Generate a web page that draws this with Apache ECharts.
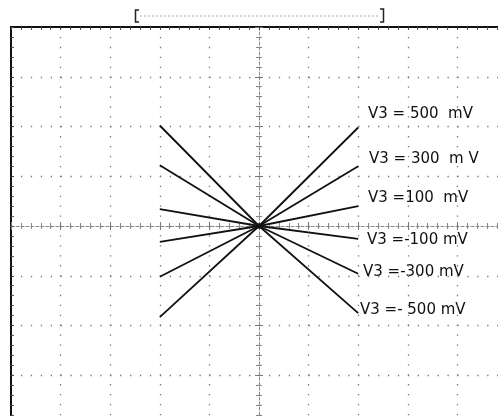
<!DOCTYPE html>
<html>
<head>
<meta charset="utf-8">
<script src="https://cdn.jsdelivr.net/npm/echarts@6/dist/echarts.min.js"></script>
<style>html,body{margin:0;padding:0;background:#fff;}#c{width:498px;height:416px;}</style>
</head>
<body>
<div id="c"></div>
<script>
// Sweep positions (screen divisions) and trace values (divisions)
const sweepX = [-2, 0, 2];
const traceNames = ['V3 = 500  mV', 'V3 = 300  m V', 'V3 =100  mV', 'V3 =-100 mV', 'V3 =-300 mV', 'V3 =- 500 mV'];
const v500 = [-1.83, 0, 1.98];
const v300 = [-1.02, 0, 1.20];
const v100 = [-0.32, 0, 0.40];
const vm100 = [0.34, 0, -0.26];
const vm300 = [1.22, 0, -0.96];
const vm500 = [2.02, 0, -1.75];
const traces = [v500, v300, v100, vm100, vm300, vm500];
const convergence = [[0, 0]];

const chart = echarts.init(document.getElementById('c'), null, {renderer: 'canvas'});

const gridDot = {color: '#777', width: 1.3, type: [1.3, 8.62]};
const centerLine = {color: '#8a8a8a', width: 1, type: [3, 2]};

function baseAxis(extra) {
  return Object.assign({
    type: 'value', axisLabel: {show: false}, splitLine: {show: false},
    minorTick: {show: false}, axisTick: {show: false}
  }, extra);
}

const option = {
  animation: false,
  backgroundColor: '#fff',
  grid: {left: 11, top: 27, width: 496, height: 398, containLabel: false, outerBoundsMode: 'none'},
  xAxis: [
    baseAxis({min: -5, max: 5, interval: 1, position: 'bottom',
      axisLine: {show: true, onZero: true, onZeroAxisIndex: 0, lineStyle: centerLine},
      axisTick: {show: true, length: 4, lineStyle: {color: '#777'}},
      minorTick: {show: true, splitNumber: 5, length: 3, lineStyle: {color: '#888'}},
      splitLine: {show: true, lineStyle: gridDot}}),
    baseAxis({min: -5, max: 5, interval: 1, position: 'top',
      axisLine: {show: false, onZero: true, onZeroAxisIndex: 0},
      axisTick: {show: true, length: 4, lineStyle: {color: '#777'}},
      minorTick: {show: true, splitNumber: 5, length: 3, lineStyle: {color: '#888'}}}),
    baseAxis({min: -5, max: 5, interval: 1, position: 'top',
      axisLine: {show: true, onZero: false, lineStyle: {color: '#111', width: 2}},
      axisTick: {show: true, inside: true, length: 3, lineStyle: {color: '#444'}},
      minorTick: {show: true, splitNumber: 5, length: 3, lineStyle: {color: '#555'}}})
  ],
  yAxis: [
    baseAxis({min: -4, max: 4, interval: 1, position: 'left',
      axisLine: {show: true, onZero: true, onZeroAxisIndex: 0, lineStyle: centerLine},
      axisTick: {show: true, length: 4, lineStyle: {color: '#777'}},
      minorTick: {show: true, splitNumber: 5, length: 3, lineStyle: {color: '#888'}},
      splitLine: {show: true, lineStyle: gridDot}}),
    baseAxis({min: -4, max: 4, interval: 1, position: 'right',
      axisLine: {show: false, onZero: true, onZeroAxisIndex: 0},
      axisTick: {show: true, length: 4, lineStyle: {color: '#777'}},
      minorTick: {show: true, splitNumber: 5, length: 3, lineStyle: {color: '#888'}}}),
    baseAxis({min: -4, max: 4, interval: 1, position: 'left',
      axisLine: {show: true, onZero: false, lineStyle: {color: '#111', width: 2}},
      axisTick: {show: true, inside: true, length: 3, lineStyle: {color: '#444'}},
      minorTick: {show: true, splitNumber: 5, length: 3, lineStyle: {color: '#555'}}})
  ],
  series: traces.map((t, i) => ({
    type: 'line', name: traceNames[i], xAxisIndex: 0, yAxisIndex: 0,
    data: sweepX.map((x, j) => [x, t[j]]),
    showSymbol: false, symbol: 'none',
    lineStyle: {color: '#111', width: 1.8}, z: 5
  })).concat([{
    type: 'scatter', data: convergence, symbolSize: 6,
    itemStyle: {color: '#111'}, z: 6, xAxisIndex: 0, yAxisIndex: 0
  }]),
  graphic: [
    {type: 'polyline', shape: {points: [[139, 10], [135.5, 10], [135.5, 22], [139, 22]]}, style: {stroke: '#222', lineWidth: 1.5, fill: null}},
    {type: 'line', shape: {x1: 140, y1: 16, x2: 380, y2: 16}, style: {stroke: '#aaa', lineWidth: 1, lineDash: [2, 2]}},
    {type: 'polyline', shape: {points: [[380, 9], [383.5, 9], [383.5, 22], [380, 22]]}, style: {stroke: '#222', lineWidth: 1.5, fill: null}}
  ].concat(traceNames.map((name, i) => ({
    type: 'text',
    left: [368, 369, 368, 367, 363, 360][i],
    top: [116, 161, 200, 242, 274, 312][i] - 9,
    style: {text: name, fontFamily: 'DejaVu Sans', fontSize: 15, fill: '#111'}
  })))
};
chart.setOption(option);
</script>
</body>
</html>
